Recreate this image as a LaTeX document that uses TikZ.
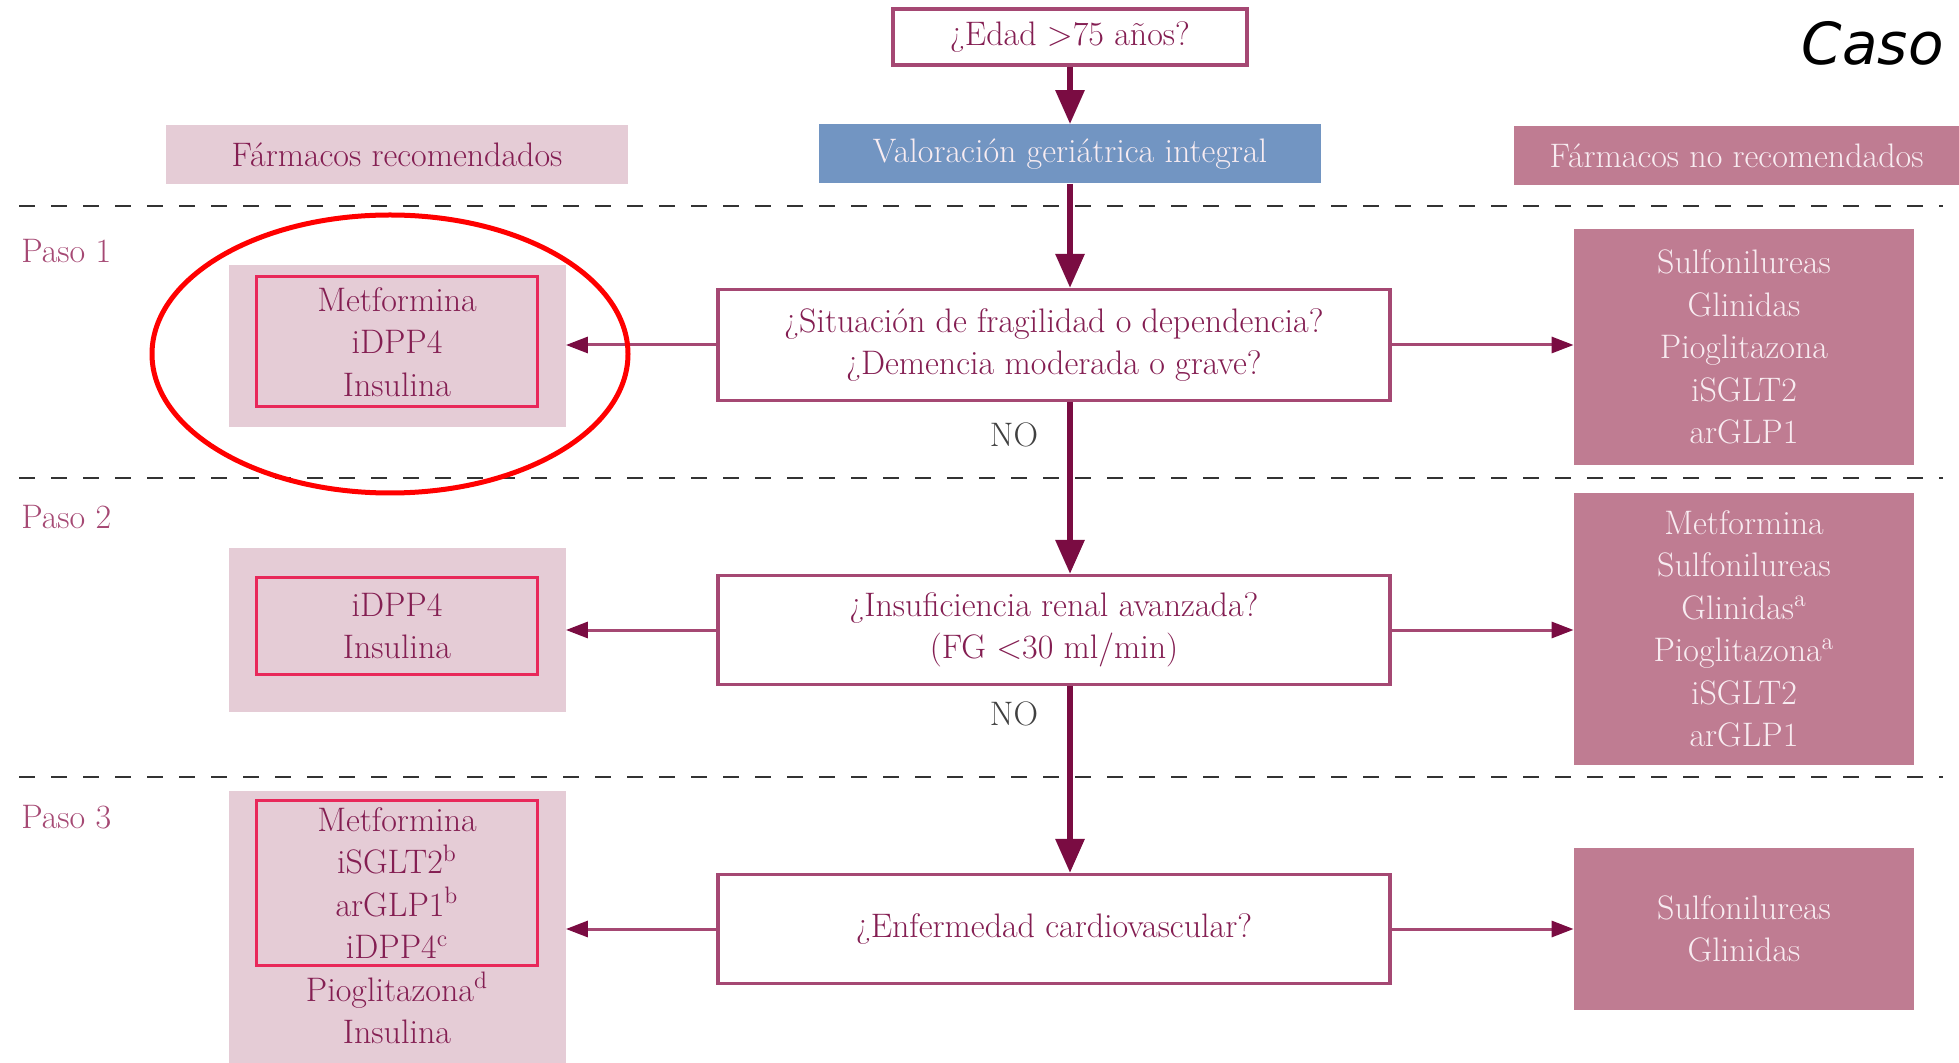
\documentclass[tikz,border=0pt]{standalone}
\usepackage{fontspec}
\newfontfamily\casofont{DejaVu Sans}
\usetikzlibrary{arrows.meta}

\definecolor{granate}{RGB}{122,12,66}
\definecolor{marco}{RGB}{165,72,115}
\definecolor{textogranate}{RGB}{132,30,82}
\definecolor{rosaclaro}{RGB}{229,204,214}
\definecolor{rosaoscuro}{RGB}{191,124,146}
\definecolor{rojomarco}{RGB}{232,40,90}
\definecolor{azulval}{RGB}{114,149,194}
\definecolor{textoclaro}{RGB}{248,236,241}

\tikzset{
  texto/.style={font=\fontsize{17}{21.25}\selectfont, align=center, inner sep=0pt},
  pregunta/.style={texto, draw=marco, line width=1.6pt, fill=white, text=textogranate,
    minimum width=336pt, minimum height=55pt},
  fondorec/.style={fill=rosaclaro, minimum width=168.5pt},
  fondonorec/.style={texto, fill=rosaoscuro, text=textoclaro, minimum width=170pt},
  marcorojo/.style={texto, draw=rojomarco, line width=1.5pt, text=textogranate, minimum width=140.5pt},
  cabecera/.style={texto, minimum height=29.5pt},
  flechagruesa/.style={granate, line width=3pt, -{Triangle[length=17pt,width=14pt]}},
  flechafina/.style={marco, line width=1.5pt, -{Triangle[length=11pt,width=8pt,color=granate]}},
  separador/.style={black!80, line width=1.4pt, dash pattern=on 8pt off 8pt},
  paso/.style={texto, text=marco, anchor=west},
}

\begin{document}
\begin{tikzpicture}[x=0.5pt, y=-0.5pt]
  \useasboundingbox (0,0) rectangle (1959,1063);

  % cabecera
  \node[pregunta, minimum width=177pt, minimum height=28pt] (edad) at (1070,37) {¿Edad >75 años?};
  \node[cabecera, fill=azulval, text=textoclaro, minimum width=251pt] (valor) at (1070,154) {Valoración geriátrica integral};
  \node[cabecera, fill=rosaclaro, text=textogranate, minimum width=231pt] (cabrec) at (397,155) {Fármacos recomendados};
  \node[cabecera, fill=rosaoscuro, text=textoclaro, minimum width=222.5pt] (cabnorec) at (1736.5,155.5) {Fármacos no recomendados};
  \node[anchor=base east, inner sep=0pt, font=\casofont\itshape\fontsize{29}{30}\selectfont] (caso) at (1944,65) {Caso};

  % separadores
  \draw[separador] (19,206) -- (1943,206);
  \draw[separador] (19,478) -- (1943,478);
  \draw[separador] (19,777) -- (1943,777);

  \node[paso] (paso1) at (21,251) {Paso 1};
  \node[paso] (paso2) at (21,517) {Paso 2};
  \node[paso] (paso3) at (21,817) {Paso 3};

  % paso 1
  \node[fondorec, minimum height=81pt] (rec1) at (397,346) {};
  \node[marcorojo, minimum height=65pt] (rojo1) at (397,342) {Metformina\\iDPP4\\Insulina};
  \node[pregunta, minimum height=55.5pt] (preg1) at (1054,345)
    {¿Situación de fragilidad o dependencia?\\¿Demencia moderada o grave?};
  \node[fondonorec, minimum height=118pt] (norec1) at (1744,347)
    {Sulfonilureas\\Glinidas\\Pioglitazona\\iSGLT2\\arGLP1};
  \node[texto, text=black!75] (no1) at (1014,435) {NO};

  % paso 2
  \node[fondorec, minimum height=81.5pt] (rec2) at (397,630) {};
  \node[marcorojo, minimum height=48.5pt] (rojo2) at (397,626) {iDPP4\\Insulina};
  \node[pregunta, minimum height=54.5pt] (preg2) at (1054,630)
    {¿Insuficiencia renal avanzada?\\(FG <30 ml/min)};
  \node[fondonorec, minimum height=136pt] (norec2) at (1744,629)
    {Metformina\\Sulfonilureas\\Glinidas\textsuperscript{a}\\Pioglitazona\textsuperscript{a}\\iSGLT2\\arGLP1};
  \node[texto, text=black!75] (no2) at (1014,714) {NO};

  % paso 3
  \node[fondorec, minimum height=136pt] (rec3) at (397,927) {};
  \node[marcorojo, minimum height=82.5pt] (rojo3) at (397,883)
    {Metformina\\iSGLT2\textsuperscript{b}\\arGLP1\textsuperscript{b}\\iDPP4\textsuperscript{c}};
  \node[texto, text=textogranate] (resto3) at (397,1008) {Pioglitazona\textsuperscript{d}\\Insulina};
  \node[pregunta, minimum height=54.5pt] (preg3) at (1054,929) {¿Enfermedad cardiovascular?};
  \node[fondonorec, minimum height=81pt] (norec3) at (1744,929) {Sulfonilureas\\Glinidas};

  % flechas
  \draw[flechagruesa] (edad.south) -- (valor.north);
  \draw[flechagruesa] (valor.south) -- (valor.south |- preg1.north);
  \draw[flechagruesa] (valor.south |- preg1.south) -- (valor.south |- preg2.north);
  \draw[flechagruesa] (valor.south |- preg2.south) -- (valor.south |- preg3.north);
  \foreach \i in {1,2,3} {
    \draw[flechafina] (preg\i.west) -- (preg\i.west -| rec\i.east);
    \draw[flechafina] (preg\i.east) -- (preg\i.east -| norec\i.west);
  }

  % marca
  \draw[red, line width=2.5pt] (390,354) ellipse [x radius=119pt, y radius=69.5pt];
\end{tikzpicture}
\end{document}
